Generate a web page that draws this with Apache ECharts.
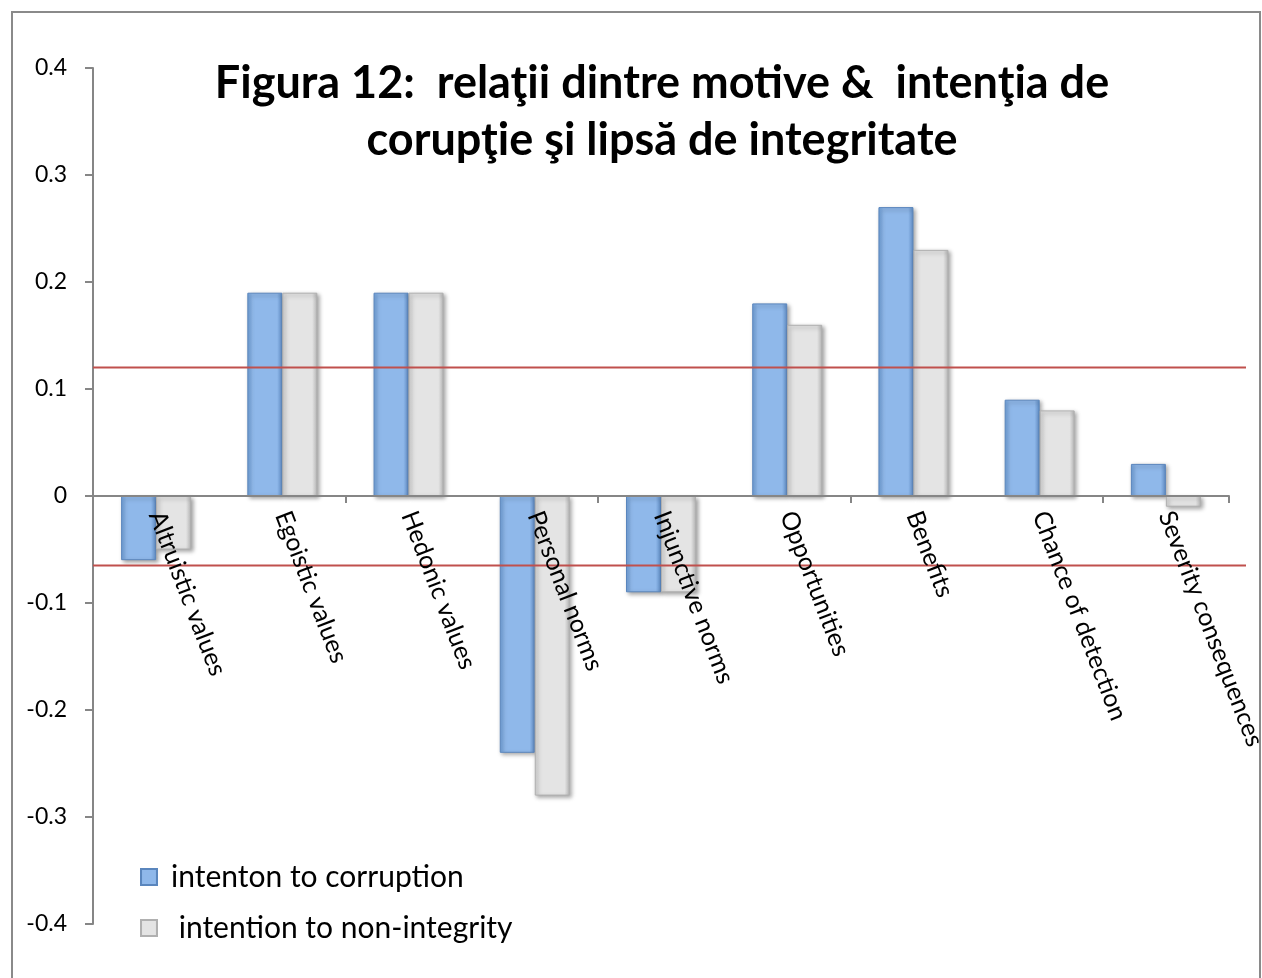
<!DOCTYPE html>
<html>
<head>
<meta charset="utf-8">
<script src="https://cdn.jsdelivr.net/npm/echarts@6/dist/echarts.min.js"></script>
<style>
  html, body { margin: 0; padding: 0; background: #fff; }
  #chart { width: 1262px; height: 978px; }
</style>
</head>
<body>
<div id="chart"></div>
<script>
// Categorii (motive)
const categories = [
  'Altruistic values', 'Egoistic values', 'Hedonic values', 'Personal norms',
  'Injunctive norms', 'Opportunities', 'Benefits', 'Chance of detection',
  'Severity consequences'
];

// Valori
const corruption = [-0.06, 0.19, 0.19, -0.24, -0.09, 0.18, 0.27, 0.09, 0.03];
const nonIntegrity = [-0.05, 0.19, 0.19, -0.28, -0.09, 0.16, 0.23, 0.08, -0.01];

// Liniile roşii de prag
const thresholds = [0.12, -0.065];

const yTicks = [-0.4, -0.3, -0.2, -0.1, 0, 0.1, 0.2, 0.3, 0.4];
const Y_MIN = -0.4, Y_MAX = 0.4;

const FONT = 'Lato, "Open Sans", sans-serif';

const chart = echarts.init(document.getElementById('chart'));

// Zona de desen
const W = 1262, H = 978;
const plot = { left: 93, right: 33, top: 68, bottom: 54 };
// linia de zero (unde stau etichetele categoriilor)
const zeroY = plot.top + (H - plot.top - plot.bottom) * Y_MAX / (Y_MAX - Y_MIN);

const blueFill = new echarts.graphic.LinearGradient(0, 0, 1, 0, [
  { offset: 0, color: '#6f9fd8' },
  { offset: 0.15, color: '#8fb8ea' },
  { offset: 0.85, color: '#8fb8ea' },
  { offset: 1, color: '#5f8cc4' }
]);
const grayFill = new echarts.graphic.LinearGradient(0, 0, 1, 0, [
  { offset: 0, color: '#d2d2d2' },
  { offset: 0.15, color: '#e4e4e4' },
  { offset: 0.85, color: '#e4e4e4' },
  { offset: 1, color: '#b8b8b8' }
]);

const option = {
  backgroundColor: '#fff',
  animation: false,
  title: {
    text: 'Figura 12:  relaţii dintre motive &  intenţia de\ncorupţie şi lipsă de integritate',
    left: 657,
    top: 50,
    textAlign: 'center',
    textStyle: {
      fontFamily: FONT,
      fontWeight: 'bold',
      fontSize: 45,
      lineHeight: 57,
      color: '#000'
    }
  },
  graphic: [{
    type: 'rect',
    shape: { x: 12, y: 12, width: 1248, height: 990 },
    style: { fill: 'none', stroke: '#8a8a8a', lineWidth: 2 },
    silent: true
  }],
  legend: {
    orient: 'vertical',
    left: 135,
    top: 857,
    itemGap: 21,
    itemWidth: 16,
    itemHeight: 16,
    icon: 'rect',
    data: ['intenton to corruption', ' intention to non-integrity'],
    textStyle: { fontFamily: FONT, fontSize: 30, color: '#000', padding: [0, 0, 0, 9] }
  },
  grid: [
    Object.assign({ outerBoundsMode: 'none', containLabel: false }, plot),
    { left: plot.left, right: 16, top: plot.top, bottom: plot.bottom, outerBoundsMode: 'none', containLabel: false },
    { left: plot.left, right: plot.right, top: plot.top, bottom: H - zeroY, outerBoundsMode: 'none', containLabel: false }
  ],
  xAxis: [{
    type: 'category',
    data: categories,
    gridIndex: 0,
    axisLine: { onZero: true, lineStyle: { color: '#868686', width: 2 } },
    axisTick: { show: true, length: 7, lineStyle: { color: '#868686', width: 2 } },
    axisLabel: { show: false },
    z: 5
  }, {
    type: 'value',
    gridIndex: 1,
    min: 0,
    max: 1,
    show: false
  }, {
    // doar etichetele, aşezate pe linia de zero
    type: 'category',
    data: categories,
    gridIndex: 2,
    position: 'bottom',
    axisLine: { show: false },
    axisTick: { show: false },
    axisLabel: {
      interval: 0,
      rotate: -69,
      margin: 16,
      fontFamily: FONT,
      fontSize: 25,
      color: '#000'
    },
    z: 6
  }],
  yAxis: [{
    type: 'value',
    gridIndex: 0,
    min: Y_MIN,
    max: Y_MAX,
    interval: 0.1,
    axisLine: { show: true, lineStyle: { color: '#868686', width: 2 } },
    axisTick: { show: true, length: 8, lineStyle: { color: '#868686', width: 2 } },
    splitLine: { show: false },
    axisLabel: {
      margin: 26,
      fontFamily: FONT,
      fontSize: 23,
      color: '#000',
      formatter: v => {
        const t = yTicks.find(x => Math.abs(x - v) < 1e-9);
        return t === undefined ? '' : String(t);
      }
    }
  }, {
    type: 'value',
    gridIndex: 1,
    min: Y_MIN,
    max: Y_MAX,
    show: false
  }, {
    type: 'value',
    gridIndex: 2,
    show: false
  }],
  series: [
    {
      name: 'intenton to corruption',
      type: 'bar',
      data: corruption,
      barWidth: 35,
      barGap: '0%',
      itemStyle: {
        color: blueFill,
        borderColor: '#5a86bd',
        borderWidth: 1,
        shadowColor: 'rgba(0,0,0,0.35)',
        shadowBlur: 4,
        shadowOffsetX: 2,
        shadowOffsetY: 2
      }
    },
    {
      name: ' intention to non-integrity',
      type: 'bar',
      data: nonIntegrity,
      barWidth: 35,
      itemStyle: {
        color: grayFill,
        borderColor: '#b0b0b0',
        borderWidth: 1,
        shadowColor: 'rgba(0,0,0,0.35)',
        shadowBlur: 4,
        shadowOffsetX: 2,
        shadowOffsetY: 2
      }
    },
    ...thresholds.map(t => ({
      type: 'line',
      xAxisIndex: 1,
      yAxisIndex: 1,
      data: [[0, t], [1, t]],
      symbol: 'none',
      silent: true,
      z: 4,
      lineStyle: { color: '#c0504d', width: 2 }
    }))
  ]
};

chart.setOption(option);
</script>
</body>
</html>
